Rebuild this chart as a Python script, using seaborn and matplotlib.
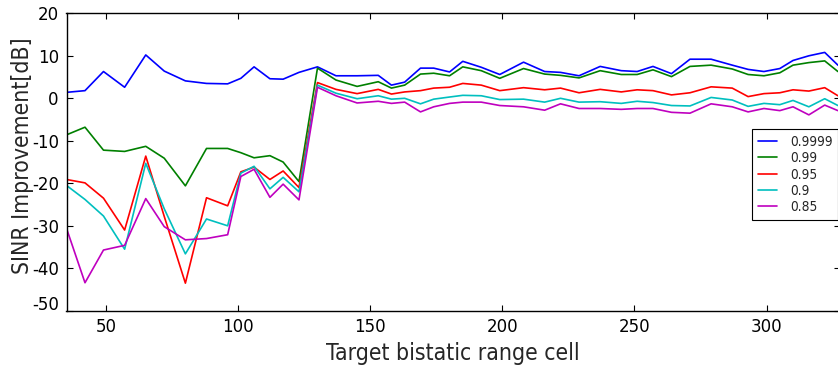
import matplotlib
matplotlib.use("Agg")
import matplotlib.pyplot as plt
import matplotlib.transforms as mtransforms
from matplotlib import font_manager
import numpy as np
import pandas as pd
import seaborn as sns

# Target bistatic range cells
cells = [35, 42, 49, 57, 65, 72, 80, 88, 96, 101, 106, 112, 117, 123, 130,
         137, 145, 153, 158, 163, 169, 174, 180, 185, 192, 199, 208, 216, 222, 229,
         237, 245, 251, 257, 264, 271, 279, 287, 293, 299, 305, 310, 316, 322, 327]

# SINR improvement [dB] for each threshold
sinr_9999 = [1.4, 1.8, 6.3, 2.6, 10.2, 6.4, 4.1, 3.5, 3.4, 4.7, 7.4, 4.6, 4.5, 6.1, 7.4,
             5.3, 5.3, 5.4, 3.1, 3.8, 7.1, 7.1, 6.2, 8.7, 7.3, 5.6, 8.5, 6.3, 6.1, 5.3,
             7.5, 6.5, 6.3, 7.5, 5.8, 9.2, 9.2, 7.8, 6.8, 6.3, 7.0, 8.9, 10.0, 10.8, 7.8]
sinr_99 = [-8.6, -6.8, -12.2, -12.5, -11.3, -14.1, -20.6, -11.8, -11.8, -12.8, -14.0, -13.5, -15.0, -19.6, 7.1,
           4.3, 2.8, 3.9, 2.4, 3.1, 5.7, 5.9, 5.3, 7.4, 6.5, 4.7, 7.0, 5.7, 5.4, 4.8,
           6.5, 5.6, 5.6, 6.7, 5.1, 7.5, 7.8, 6.9, 5.6, 5.3, 6.0, 7.8, 8.4, 8.8, 6.3]
sinr_95 = [-19.1, -19.9, -23.5, -31.0, -13.6, -27.8, -43.5, -23.4, -25.3, -17.3, -16.2, -19.1, -17.1, -21.0, 3.7,
           2.1, 1.1, 2.1, 1.0, 1.5, 1.8, 2.4, 2.6, 3.5, 3.1, 1.8, 2.5, 2.0, 2.4, 1.3,
           2.1, 1.5, 2.0, 1.8, 0.8, 1.3, 2.7, 2.4, 0.4, 1.1, 1.3, 2.0, 1.7, 2.5, 0.6]
sinr_90 = [-20.5, -23.8, -27.7, -35.5, -15.3, -26.0, -36.6, -28.4, -30.0, -17.6, -16.0, -21.3, -18.6, -22.0, 3.1,
           1.2, -0.1, 0.6, -0.2, 0.0, -1.3, -0.2, 0.3, 0.7, 0.6, -0.3, -0.2, -0.9, 0.0, -0.9,
           -0.8, -1.2, -0.7, -1.0, -1.7, -1.8, 0.2, -0.4, -1.9, -1.2, -1.5, -0.5, -2.0, -0.1, -1.7]
sinr_85 = [-30.6, -43.4, -35.7, -34.6, -23.6, -30.2, -33.3, -33.0, -32.1, -18.4, -16.7, -23.3, -20.2, -23.9, 2.6,
           0.6, -1.1, -0.7, -1.2, -0.9, -3.2, -2.0, -1.2, -0.9, -0.9, -1.7, -2.0, -2.8, -1.3, -2.4,
           -2.4, -2.6, -2.4, -2.4, -3.3, -3.5, -1.3, -2.0, -3.2, -2.4, -2.9, -2.0, -3.9, -1.6, -2.9]

thresholds = ["0.9999", "0.99", "0.95", "0.9", "0.85"]
series = [sinr_9999, sinr_99, sinr_95, sinr_90, sinr_85]
colors = ["#0000ff", "#008000", "#ff0000", "#00bfbf", "#bf00bf"]

x_ticks = [50, 100, 150, 200, 250, 300]
y_ticks = [20, 10, 0, -10, -20, -30, -40, -50]

df = pd.concat(
    [pd.DataFrame({"cell": cells, "sinr": vals, "threshold": name})
     for name, vals in zip(thresholds, series)],
    ignore_index=True,
)

sns.set_style("ticks")
plt.rcParams["font.family"] = ["DejaVu Sans"]
plt.rcParams["axes.unicode_minus"] = False

# narrow face for axis titles and legend entries
cond = dict(family="DejaVu Sans", stretch="condensed")
label_font = font_manager.FontProperties(size=16.5, **cond)
legend_font = font_manager.FontProperties(size=9.8, **cond)

W, H = 838, 367
fig = plt.figure(figsize=(W / 100, H / 100), dpi=100)
left, right, top, bottom = 66.5, 839.5, 13.3, 310.8
ax = fig.add_axes([left / W, 1 - bottom / H, (right - left) / W, (bottom - top) / H])

sns.lineplot(
    data=df, x="cell", y="sinr", hue="threshold", hue_order=thresholds,
    palette=dict(zip(thresholds, colors)), estimator=None, sort=False,
    linewidth=1.2, ax=ax,
)

ax.set_xlim(35, 327.6)
ax.set_ylim(-50, 20)
ax.set_xticks(x_ticks)
ax.set_yticks(y_ticks)
ax.tick_params(direction="in", length=4, width=0.8, labelsize=12, colors="black",
               top=True, right=True, pad=5.5)
for sp in ax.spines.values():
    sp.set_linewidth(1.0)
    sp.set_color("black")

# lift the bottom y label so it sits inside the frame height
for lbl, val in zip(ax.get_yticklabels(), y_ticks):
    if val == -50:
        lbl.set_transform(lbl.get_transform() +
                          mtransforms.ScaledTranslation(0, 8 / 100, fig.dpi_scale_trans))

ax.set_xlabel("Target bistatic range cell", fontproperties=label_font, labelpad=4)
ax.set_ylabel("SINR Improvement[dB]", fontproperties=label_font)
ax.yaxis.set_label_coords(-0.0425, 0.52)

handles, labels = ax.get_legend_handles_labels()
leg = ax.legend(handles, labels, loc="center right", bbox_to_anchor=(0.9985, 0.458),
                prop=legend_font, handlelength=1.4, handletextpad=1.0,
                labelspacing=0.17, borderpad=0.4, borderaxespad=0,
                frameon=True, fancybox=False, framealpha=1, edgecolor="black")
leg.get_frame().set_linewidth(0.8)

fig.savefig("out.png", dpi=100)
